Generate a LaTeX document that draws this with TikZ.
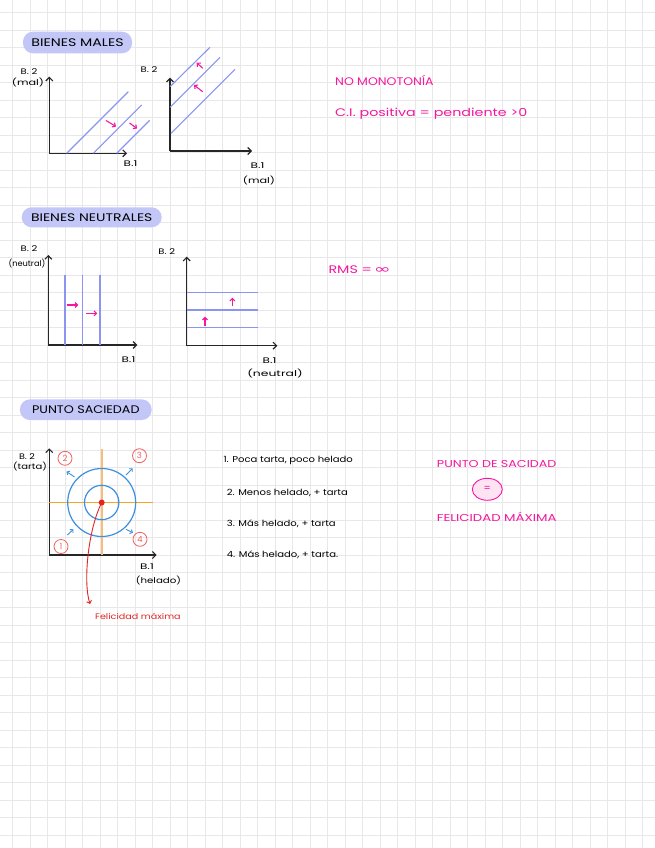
\documentclass[tikz,border=0pt]{standalone}
\usepackage{fontspec}
\usepackage{graphicx}
\setmainfont{Poppins}
\newfontfamily\symfont{DejaVu Sans}
\usetikzlibrary{arrows.meta,shapes.geometric}
\newcommand{\sx}[2]{\scalebox{#1}[1]{#2}}
\definecolor{pinkc}{HTML}{F5179E}
\definecolor{gridc}{HTML}{E8E8E8}
\definecolor{pillc}{HTML}{C3C7F7}
\definecolor{indc}{HTML}{8C94F2}
\definecolor{orangec}{HTML}{F5A42A}
\definecolor{orangelc}{HTML}{F8BE78}
\definecolor{bluec}{HTML}{3D8FE0}
\definecolor{redc}{HTML}{E02424}
\definecolor{salmonc}{HTML}{F06262}
\begin{document}
\begin{tikzpicture}[x=1pt,y=-1pt,
  axis/.style={draw=black!85, line width=1.1pt, -{Straight Barb[length=3.5pt,width=7pt]}},
  ind/.style={draw=indc, line width=1.1pt},
  parr/.style={draw=pinkc, line width=1.1pt, -{Straight Barb[length=2.5pt,width=5pt]}},
  barr/.style={draw=bluec, line width=0.9pt, -{Straight Barb[length=2.2pt,width=4.5pt]}},
  pill/.style={fill=pillc, rounded corners=10pt, inner sep=0pt, font=\fontsize{11}{12}\selectfont},
  lab/.style={inner sep=0pt, font=\fontsize{8}{9}\selectfont},
  pinktxt/.style={inner sep=0pt, text=pinkc, font=\fontsize{11}{12}\selectfont},
  listtxt/.style={inner sep=0pt, anchor=west, font=\fontsize{8.5}{10}\selectfont},
  num/.style={circle, draw=salmonc, line width=0.8pt, text=salmonc, inner sep=0pt, minimum size=14pt, font=\fontsize{8.5}{9}\selectfont}
]
\useasboundingbox (0,0) rectangle (655,848);
\fill[white] (0,0) rectangle (655,848);
\foreach \i in {0,...,36} { \draw[gridc, line width=0.9pt] ({12.7+17.5*\i},0) -- ++(0,848); }
\foreach \i in {0,...,47} { \draw[gridc, line width=0.9pt] (0,{12.7+17.5*\i}) -- ++(655,0); }

% ---------- Section 1: BIENES MALES ----------
\node[pill, minimum width=109pt, minimum height=21.6pt] (p1) at (77.5,42.5) {\sx{1.29}{BIENES MALES}};

\coordinate (o1) at (49.3,153.3);
\coordinate (y1) at (49.3,76.7);
\coordinate (x1) at (127,153.3);
\draw[axis] (o1) -- (y1);
\draw[axis] (o1) -- (x1);
\draw[ind] (66.7,153.3) -- ++(61.6,-61.6);
\draw[ind] (93.3,153.3) -- ++(48.4,-48.4);
\draw[ind] (116.7,153.3) -- ++(33,-33);
\draw[parr] (106,120.5) -- (116,126.5);
\draw[parr] (129.5,123) -- (137,128.5);
\node[lab] (l1a) at (29,71.7) {\sx{1.25}{B. 2}};
\node[lab] (l1b) at (28,82.7) {\sx{1.4}{(mal)}};
\node[lab] (l1c) at (130.5,164) {\sx{1.5}{B.1}};

\coordinate (o2) at (170,151);
\coordinate (y2) at (170,77.7);
\coordinate (x2) at (252,151);
\draw[axis] (o2) -- (y2);
\draw[axis] (o2) -- (x2);
\draw[ind] (170,86.7) -- (210,47.3);
\draw[ind] (170,107.3) -- (220,57.3);
\draw[ind] (171,133.3) -- (235,69.3);
\draw[parr] (202.7,68.3) -- (196.7,62.7);
\draw[parr] (202.7,91.7) -- (194,85);
\node[lab] (l2a) at (149,70) {\sx{1.25}{B. 2}};
\node[lab] (l2b) at (257.5,165.7) {\sx{1.5}{B.1}};
\node[lab] (l2c) at (259,180.7) {\sx{1.4}{(mal)}};

\node[pinktxt, anchor=west] (t1) at (335,80) {\sx{1.14}{NO MONOTONÍA}};
\node[pinktxt, anchor=west] (t2) at (335,113.3) {\sx{1.3}{C.I. positiva = pendiente >0}};

% ---------- Section 2: BIENES NEUTRALES ----------
\node[pill, minimum width=140pt, minimum height=20pt] (p2) at (91.7,217.3) {\sx{1.27}{BIENES NEUTRALES}};

\coordinate (o3) at (48.3,345);
\coordinate (y3) at (48.3,255);
\coordinate (x3) at (137.3,345);
\draw[axis] (o3) -- (y3);
\draw[axis] (o3) -- (x3);
\foreach \xx in {65,82.3,100} { \draw[ind] (\xx,275) -- (\xx,345); }
\draw[parr] (66.7,305) -- (78.3,305);
\draw[parr] (86,313.3) -- (97.3,313.3);
\node[lab] (l3a) at (29,248.3) {\sx{1.25}{B. 2}};
\node[lab] (l3b) at (27,263.3) {\sx{1.03}{(neutral)}};
\node[lab] (l3c) at (128.5,360) {\sx{1.5}{B.1}};

\coordinate (o4) at (186.7,345.7);
\coordinate (y4) at (186.7,256.7);
\coordinate (x4) at (277.3,345.7);
\draw[axis] (o4) -- (y4);
\draw[axis] (o4) -- (x4);
\foreach \yy in {292.7,310,327.7} { \draw[ind] (186.7,\yy) -- (258.3,\yy); }
\draw[parr] (232.3,306) -- (232.3,297.7);
\draw[parr] (205,326) -- (205,316.7);
\node[lab] (l4a) at (166.7,251.7) {\sx{1.25}{B. 2}};
\node[lab] (l4b) at (269.5,360.7) {\sx{1.5}{B.1}};
\node[lab] (l4c) at (275,373.3) {\sx{1.55}{(neutral)}};

\node[pinktxt, anchor=west] (t3) at (328.3,269.3) {\sx{1.3}{RMS =}\,\sx{1.7}{\symfont\fontsize{12}{12}\selectfont ∞}};

% ---------- Section 3: PUNTO SACIEDAD ----------
\node[pill, minimum width=131.7pt, minimum height=20.7pt] (p3) at (85.8,409.7) {\sx{1.16}{PUNTO SACIEDAD}};

\coordinate (o5) at (49.3,555);
\coordinate (y5) at (49.3,448.3);
\coordinate (x5) at (156.7,555);
\coordinate (c5) at (101.7,502.5);
\draw[axis] (o5) -- (y5);
\draw[axis] (o5) -- (x5);
\draw[orangec, line width=1.1pt] (49.3,502.5) -- (153,502.5);
\draw[orangelc, line width=1.6pt] (101.7,449.3) -- (101.7,555);
\draw[bluec, line width=1.2pt] (c5) circle[radius=34pt];
\draw[bluec, line width=1.2pt] (c5) circle[radius=17.2pt];
\node[num] (n2) at (65,458.3) {2};
\node[num] (n3) at (139.5,455.7) {3};
\node[num] (n1) at (61,546.5) {1};
\node[num] (n4) at (140,539.3) {4};
\draw[barr] (74.5,477) -- (66.5,471.5);
\draw[barr] (126,475) -- (132.7,468.3);
\draw[barr] (67.3,535) -- (73.5,529.3);
\draw[barr] (126,529.3) -- (133,532.8);
\node[lab] (l5a) at (27,457) {\sx{1.2}{B. 2}};
\node[lab] (l5b) at (30,466.5) {\sx{1.25}{(tarta)}};
\node[lab] (l5c) at (147,566.7) {\sx{1.5}{B.1}};
\node[lab] (l5d) at (158.5,580.7) {\sx{1.28}{(helado)}};

\node[inner sep=0pt, text=redc, anchor=west, font=\fontsize{8}{9}\selectfont] (fm) at (95,616) {\sx{1.2}{Felicidad máxima}};
\coordinate (fe) at (90,604);
\draw[redc, line width=0.9pt, -{Straight Barb[length=2.5pt,width=5pt]}] (c5) .. controls (88,530) and (83,582) .. (fe);
\fill[redc] (c5) circle[radius=3pt];

\node[listtxt] (i1) at (223.3,460.7) {\sx{1.18}{1. Poca tarta, poco helado}};
\node[listtxt] (i2) at (226.7,492.7) {\sx{1.18}{2. Menos helado, + tarta}};
\node[listtxt] (i3) at (226.7,523.3) {\sx{1.18}{3. Más helado, + tarta}};
\node[listtxt] (i4) at (226.7,554.3) {\sx{1.18}{4. Más helado, + tarta.}};

\node[pinktxt, font=\fontsize{10}{11}\selectfont] (s1) at (496.7,464) {\sx{1.27}{PUNTO DE SACIDAD}};
\node[ellipse, draw=pinkc, fill=pinkc!12, line width=0.9pt, minimum width=30pt, minimum height=22pt, inner sep=0pt, text=pinkc, font=\fontsize{10}{10}\selectfont] (eq) at (487.3,489.3) {=};
\node[pinktxt, font=\fontsize{10}{11}\selectfont] (s2) at (496.7,517.3) {\sx{1.33}{FELICIDAD MÁXIMA}};
\end{tikzpicture}
\end{document}
